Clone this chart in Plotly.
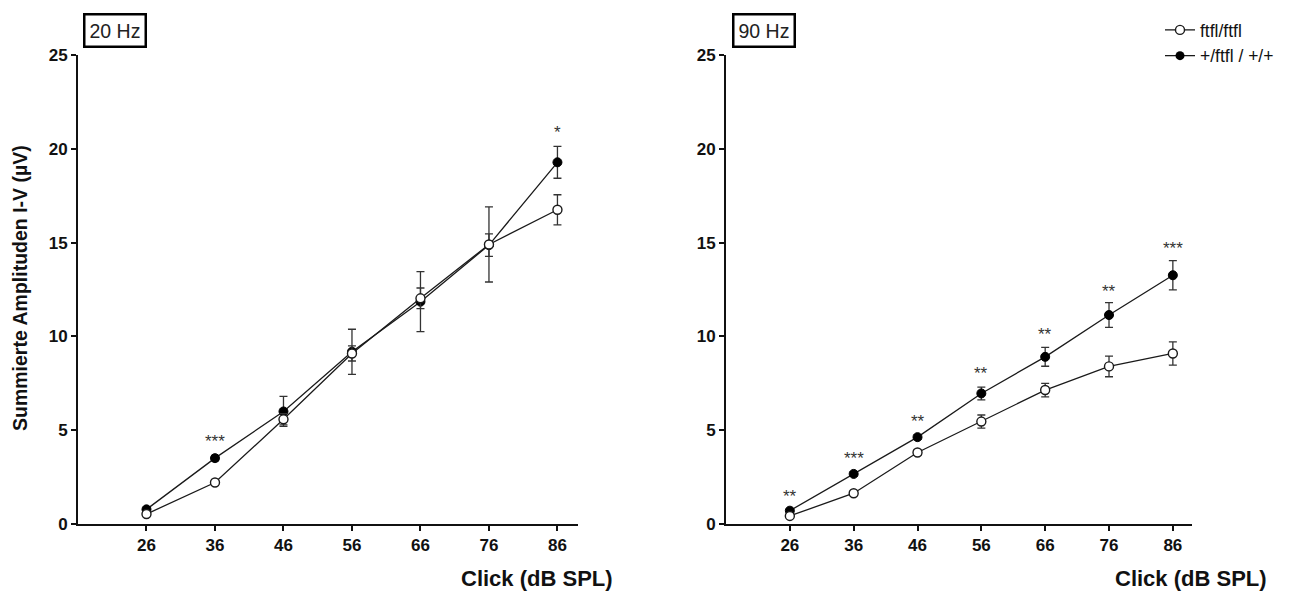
import plotly.graph_objects as go

# ---- data ----
x_db = [26, 36, 46, 56, 66, 76, 86]
tick_labels = ["26", "36", "46", "56", "66", "76", "86"]

# 20 Hz panel
open_20 = [0.53, 2.21, 5.58, 9.09, 12.03, 14.9, 16.75]
open_20_err = [0.1, 0.15, 0.3, 0.4, 0.55, 2.0, 0.8]
filled_20 = [0.78, 3.51, 6.0, 9.18, 11.85, 14.87, 19.28]
filled_20_err = [0.1, 0.15, 0.8, 1.2, 1.6, 0.6, 0.85]
stars_20 = ["", "***", "", "", "", "", "*"]
stars_20_y = [None, 4.4, None, None, None, None, 20.85]

# 90 Hz panel
open_90 = [0.43, 1.64, 3.81, 5.46, 7.14, 8.40, 9.09]
open_90_err = [0.08, 0.12, 0.15, 0.35, 0.36, 0.55, 0.62]
filled_90 = [0.71, 2.67, 4.63, 6.96, 8.91, 11.14, 13.26]
filled_90_err = [0.08, 0.12, 0.12, 0.34, 0.5, 0.66, 0.78]
stars_90 = ["**", "***", "**", "**", "**", "**", "***"]
stars_90_y = [1.44, 3.5, 5.45, 8.0, 10.1, 12.4, 14.7]

y_ticks = [0, 5, 10, 15, 20, 25]

series_names = ["ftfl/ftfl", "+/ftfl / +/+"]

W, H = 1304, 592
T, B = 55, 68
PH = H - T - B


def py(pix):
    return (H - B - pix) / PH


FONT = "Liberation Sans, Arial, sans-serif"

fig = go.Figure()

panels = [
    ("x", "y", open_20, open_20_err, filled_20, filled_20_err),
    ("x2", "y2", open_90, open_90_err, filled_90, filled_90_err),
]
for i, (xa, ya, ov, oe, fv, fe) in enumerate(panels):
    fig.add_trace(go.Scatter(
        x=x_db, y=fv, xaxis=xa, yaxis=ya, mode="lines+markers",
        name=series_names[1], showlegend=False,
        line=dict(color="#1a1a1a", width=1.3),
        marker=dict(symbol="circle", size=9, color="black",
                    line=dict(color="black", width=1)),
        error_y=dict(type="data", array=fe, visible=True, color="#333333",
                     thickness=1.3, width=4),
    ))
    fig.add_trace(go.Scatter(
        x=x_db, y=ov, xaxis=xa, yaxis=ya, mode="lines+markers",
        name=series_names[0], showlegend=False,
        line=dict(color="#1a1a1a", width=1.3),
        marker=dict(symbol="circle", size=9, color="white",
                    line=dict(color="#1a1a1a", width=1.4)),
        error_y=dict(type="data", array=oe, visible=True, color="#333333",
                     thickness=1.3, width=4),
    ))

# legend-only traces
fig.add_trace(go.Scatter(
    x=[None], y=[None], mode="lines+markers", name=series_names[0],
    line=dict(color="#1a1a1a", width=1.3),
    marker=dict(symbol="circle", size=9, color="white",
                line=dict(color="#1a1a1a", width=1.4)),
    xaxis="x2", yaxis="y2"))
fig.add_trace(go.Scatter(
    x=[None], y=[None], mode="lines+markers", name=series_names[1],
    line=dict(color="#1a1a1a", width=1.3),
    marker=dict(symbol="circle", size=9, color="black"),
    xaxis="x2", yaxis="y2"))

annotations = []
star_font = dict(family=FONT, size=17, color="#333333")
for xv, s, yv in zip(x_db, stars_20, stars_20_y):
    if s:
        annotations.append(dict(x=xv, y=yv, xref="x", yref="y", text=s,
                                showarrow=False, font=star_font,
                                xanchor="center", yanchor="middle"))
for xv, s, yv in zip(x_db, stars_90, stars_90_y):
    if s:
        annotations.append(dict(x=xv, y=yv, xref="x2", yref="y2", text=s,
                                showarrow=False, font=star_font,
                                xanchor="center", yanchor="middle"))

box_font = dict(family=FONT, size=19.5, color="#222222")
annotations.append(dict(x=114.5 / W, y=py(30), xref="paper", yref="paper",
                        text="20 Hz", showarrow=False, font=box_font,
                        xanchor="center", yanchor="middle",
                        bordercolor="black", borderwidth=2.5, borderpad=4,
                        bgcolor="white"))
annotations.append(dict(x=764 / W, y=py(30), xref="paper", yref="paper",
                        text="90 Hz", showarrow=False, font=box_font,
                        xanchor="center", yanchor="middle",
                        bordercolor="black", borderwidth=2.5, borderpad=4,
                        bgcolor="white"))

title_font = dict(family=FONT, size=22, color="#111111", weight="bold")
annotations.append(dict(x=537 / W, y=py(578), xref="paper", yref="paper",
                        text="Click (dB SPL)", showarrow=False, font=title_font,
                        xanchor="center", yanchor="middle"))
annotations.append(dict(x=1191 / W, y=py(578), xref="paper", yref="paper",
                        text="Click (dB SPL)", showarrow=False, font=title_font,
                        xanchor="center", yanchor="middle"))
annotations.append(dict(x=20 / W, y=py(288), xref="paper", yref="paper",
                        text="Summierte Amplituden I-V (µV)", textangle=-90,
                        showarrow=False, xanchor="center", yanchor="middle",
                        font=dict(family=FONT, size=19.5,
                                  color="#111111", weight="bold")))

tick_bold = dict(family=FONT, size=17, color="#111111", weight="bold")

xcommon = dict(range=[16, 89], tickvals=x_db, ticktext=tick_labels,
               showline=True, linecolor="#111111", linewidth=2,
               ticks="outside", ticklen=5, tickwidth=1.5, tickcolor="#111111",
               showgrid=False, zeroline=False, tickfont=tick_bold)
ycommon = dict(range=[0, 25], tickvals=y_ticks, showline=True,
               linecolor="#111111", linewidth=2, ticks="outside", ticklen=5,
               tickwidth=1.5, tickcolor="#111111", showgrid=False,
               zeroline=False, domain=[0, 1], tickfont=tick_bold)

fig.update_layout(
    width=W, height=H,
    margin=dict(l=0, r=0, t=T, b=B),
    paper_bgcolor="white", plot_bgcolor="white",
    xaxis=dict(xcommon, domain=[78 / W, 578 / W], anchor="y"),
    yaxis=dict(ycommon, anchor="x"),
    xaxis2=dict(xcommon, domain=[726 / W, 1192 / W], anchor="y2"),
    yaxis2=dict(ycommon, anchor="x2"),
    legend=dict(x=1160 / W, y=py(12), xanchor="left", yanchor="top",
                font=dict(family=FONT, size=17.5, color="#111111"),
                bgcolor="rgba(0,0,0,0)", itemwidth=30, tracegroupgap=0),
    annotations=annotations,
    showlegend=True,
)

fig.write_html("out.html")
